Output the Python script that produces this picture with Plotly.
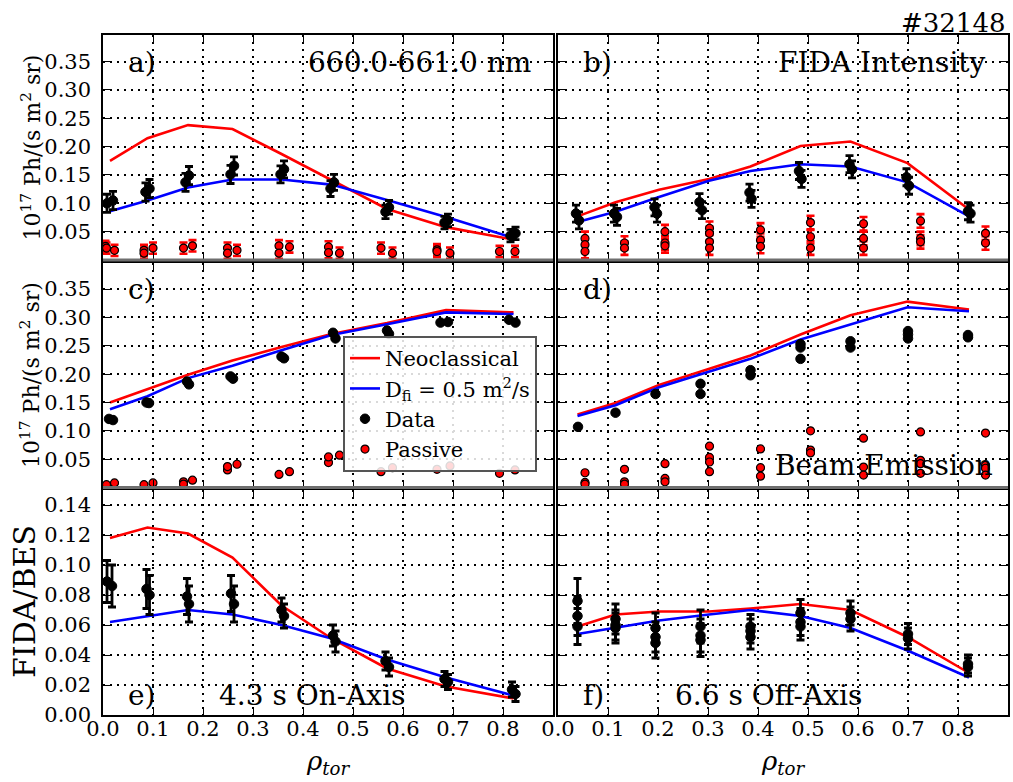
import plotly.graph_objects as go

FONT = "DejaVu Serif"

# ---------------- tick labels ----------------
x_ticks = [0.0, 0.1, 0.2, 0.3, 0.4, 0.5, 0.6, 0.7, 0.8]
x_tick_text = ["0.0", "0.1", "0.2", "0.3", "0.4", "0.5", "0.6", "0.7", "0.8"]
y_ticks_int = [0.05, 0.10, 0.15, 0.20, 0.25, 0.30, 0.35]
y_tick_text_int = ["0.05", "0.10", "0.15", "0.20", "0.25", "0.30", "0.35"]
y_ticks_ratio = [0.00, 0.02, 0.04, 0.06, 0.08, 0.10, 0.12, 0.14]
y_tick_text_ratio = ["0.00", "0.02", "0.04", "0.06", "0.08", "0.10", "0.12", "0.14"]

# ---------------- model radial positions ----------------
rho_mod_on = [0.014, 0.089, 0.170, 0.259, 0.357, 0.457, 0.568, 0.686, 0.821]
rho_mod_off = [0.039, 0.115, 0.202, 0.302, 0.385, 0.485, 0.585, 0.699, 0.822]

# ---------------- panel a: FIDA intensity, on-axis ----------------
a_neo = [0.175, 0.215, 0.238, 0.231, 0.187, 0.141, 0.090, 0.058, 0.036]
a_dfi = [0.086, 0.105, 0.128, 0.142, 0.142, 0.133, 0.106, 0.076, 0.039]
a_rho = [0.008, 0.020, 0.085, 0.093, 0.165, 0.172, 0.255, 0.262, 0.355, 0.362,
         0.455, 0.462, 0.565, 0.572, 0.683, 0.690, 0.815, 0.825]
a_val = [0.100, 0.105, 0.120, 0.126, 0.137, 0.149, 0.151, 0.166, 0.151, 0.160,
         0.126, 0.137, 0.085, 0.093, 0.066, 0.070, 0.043, 0.047]
a_err = [0.016, 0.016, 0.016, 0.016, 0.016, 0.016, 0.016, 0.016, 0.015, 0.015,
         0.014, 0.014, 0.012, 0.012, 0.011, 0.011, 0.011, 0.011]
a_prho = [0.005, 0.007, 0.023, 0.082, 0.082, 0.100, 0.161, 0.179, 0.249, 0.249,
          0.268, 0.352, 0.352, 0.373, 0.451, 0.451, 0.473, 0.556, 0.579, 0.668,
          0.668, 0.694, 0.793, 0.824]
a_pval = [0.024, 0.021, 0.017, 0.017, 0.012, 0.021, 0.021, 0.025, 0.021, 0.012,
          0.017, 0.025, 0.012, 0.023, 0.023, 0.013, 0.012, 0.021, 0.012, 0.018,
          0.015, 0.012, 0.015, 0.015]
a_perr = [0.010] * 24

# ---------------- panel b: FIDA intensity, off-axis ----------------
b_neo = [0.077, 0.102, 0.124, 0.143, 0.165, 0.201, 0.209, 0.171, 0.089]
b_dfi = [0.067, 0.085, 0.111, 0.140, 0.157, 0.169, 0.165, 0.137, 0.077]
b_rho = [0.036, 0.042, 0.112, 0.118, 0.193, 0.198, 0.283, 0.288, 0.383, 0.387,
         0.482, 0.487, 0.583, 0.588, 0.697, 0.702, 0.820, 0.825]
b_val = [0.082, 0.070, 0.082, 0.076, 0.093, 0.082, 0.102, 0.088, 0.119, 0.108,
         0.157, 0.143, 0.169, 0.160, 0.146, 0.131, 0.086, 0.082]
b_err = [0.015] * 18
b_prho = [0.054, 0.054, 0.054, 0.133, 0.133, 0.214, 0.214, 0.214, 0.303, 0.303,
          0.303, 0.303, 0.405, 0.405, 0.405, 0.505, 0.505, 0.505, 0.611, 0.611,
          0.611, 0.725, 0.725, 0.725, 0.855, 0.855]
b_pval = [0.038, 0.027, 0.015, 0.030, 0.021, 0.050, 0.030, 0.025, 0.056, 0.047,
          0.032, 0.021, 0.053, 0.035, 0.024, 0.066, 0.041, 0.021, 0.064, 0.038,
          0.021, 0.069, 0.038, 0.032, 0.047, 0.030]
b_perr = [0.012] * 26

# ---------------- panel c: beam emission, on-axis ----------------
c_neo = [0.150, 0.173, 0.199, 0.224, 0.248, 0.271, 0.290, 0.313, 0.309]
c_dfi = [0.138, 0.161, 0.193, 0.215, 0.242, 0.269, 0.288, 0.309, 0.306]
c_rho = [0.012, 0.020, 0.087, 0.092, 0.168, 0.172, 0.255, 0.260, 0.357, 0.362,
         0.460, 0.465, 0.568, 0.572, 0.675, 0.690, 0.812, 0.825]
c_val = [0.121, 0.119, 0.150, 0.149, 0.187, 0.182, 0.196, 0.192, 0.231, 0.228,
         0.273, 0.263, 0.277, 0.271, 0.291, 0.292, 0.296, 0.291]
c_err = [0.002] * 18
c_prho = [0.007, 0.023, 0.082, 0.100, 0.161, 0.161, 0.179, 0.249, 0.249, 0.268,
          0.352, 0.373, 0.451, 0.451, 0.473, 0.556, 0.579, 0.668, 0.694, 0.793,
          0.824]
c_pval = [0.005, 0.008, 0.005, 0.008, 0.010, 0.006, 0.013, 0.031, 0.037, 0.041,
          0.023, 0.028, 0.044, 0.054, 0.057, 0.028, 0.035, 0.032, 0.038, 0.025,
          0.031]
c_perr = [0.001] * 21

# ---------------- panel d: beam emission, off-axis ----------------
d_neo = [0.129, 0.149, 0.181, 0.210, 0.233, 0.270, 0.304, 0.328, 0.314]
d_dfi = [0.126, 0.145, 0.177, 0.205, 0.227, 0.261, 0.288, 0.318, 0.311]
d_rho = [0.040, 0.115, 0.195, 0.285, 0.285, 0.385, 0.385, 0.485, 0.485, 0.485,
         0.585, 0.585, 0.700, 0.700, 0.700, 0.820, 0.820]
d_val = [0.107, 0.132, 0.165, 0.183, 0.165, 0.207, 0.198, 0.253, 0.247, 0.227,
         0.258, 0.247, 0.276, 0.270, 0.263, 0.269, 0.265]
d_err = [0.002] * 17
d_prho = [0.054, 0.054, 0.054, 0.133, 0.133, 0.133, 0.214, 0.214, 0.214, 0.303,
          0.303, 0.303, 0.303, 0.405, 0.405, 0.405, 0.505, 0.505, 0.505, 0.611,
          0.611, 0.611, 0.725, 0.725, 0.725, 0.725, 0.855, 0.855, 0.855, 0.855]
d_pval = [0.026, 0.009, 0.006, 0.032, 0.010, 0.006, 0.042, 0.016, 0.010, 0.073,
          0.053, 0.045, 0.028, 0.068, 0.035, 0.020, 0.100, 0.066, 0.061, 0.087,
          0.036, 0.022, 0.098, 0.048, 0.042, 0.025, 0.096, 0.039, 0.034, 0.022]
d_perr = [0.001] * 30

# ---------------- panel e: FIDA/BES, 4.3 s on-axis ----------------
e_neo = [0.118, 0.125, 0.121, 0.105, 0.073, 0.051, 0.031, 0.019, 0.011]
e_dfi = [0.062, 0.066, 0.070, 0.067, 0.060, 0.051, 0.037, 0.025, 0.013]
e_rho = [0.008, 0.018, 0.087, 0.093, 0.168, 0.172, 0.256, 0.262, 0.357, 0.362,
         0.460, 0.465, 0.565, 0.572, 0.683, 0.690, 0.818, 0.825]
e_val = [0.089, 0.086, 0.084, 0.080, 0.079, 0.074, 0.081, 0.074, 0.070, 0.066,
         0.053, 0.049, 0.036, 0.032, 0.024, 0.022, 0.017, 0.014]
e_err = [0.014, 0.014, 0.013, 0.013, 0.012, 0.012, 0.012, 0.012, 0.008, 0.008,
         0.007, 0.007, 0.006, 0.006, 0.005, 0.005, 0.005, 0.005]

# ---------------- panel f: FIDA/BES, 6.6 s off-axis ----------------
f_neo = [0.059, 0.067, 0.069, 0.069, 0.071, 0.074, 0.070, 0.052, 0.028]
f_dfi = [0.054, 0.058, 0.063, 0.067, 0.070, 0.066, 0.058, 0.043, 0.025]
f_rho = [0.039, 0.039, 0.039, 0.115, 0.115, 0.115, 0.195, 0.195, 0.195, 0.285,
         0.285, 0.285, 0.385, 0.385, 0.385, 0.485, 0.485, 0.485, 0.585, 0.585,
         0.700, 0.700, 0.820, 0.820]
f_val = [0.076, 0.066, 0.059, 0.064, 0.060, 0.058, 0.058, 0.052, 0.048, 0.059,
         0.053, 0.050, 0.059, 0.056, 0.052, 0.068, 0.062, 0.059, 0.068, 0.064,
         0.054, 0.051, 0.034, 0.032]
f_err = [0.015, 0.013, 0.012, 0.010, 0.010, 0.010, 0.010, 0.010, 0.010, 0.011,
         0.011, 0.011, 0.008, 0.008, 0.008, 0.009, 0.009, 0.009, 0.008, 0.008,
         0.007, 0.007, 0.006, 0.006]

panels = [
    dict(rm=rho_mod_on, neo=a_neo, dfi=a_dfi, rho=a_rho, val=a_val, err=a_err,
         prho=a_prho, pval=a_pval, perr=a_perr),
    dict(rm=rho_mod_off, neo=b_neo, dfi=b_dfi, rho=b_rho, val=b_val, err=b_err,
         prho=b_prho, pval=b_pval, perr=b_perr),
    dict(rm=rho_mod_on, neo=c_neo, dfi=c_dfi, rho=c_rho, val=c_val, err=c_err,
         prho=c_prho, pval=c_pval, perr=c_perr),
    dict(rm=rho_mod_off, neo=d_neo, dfi=d_dfi, rho=d_rho, val=d_val, err=d_err,
         prho=d_prho, pval=d_pval, perr=d_perr),
    dict(rm=rho_mod_on, neo=e_neo, dfi=e_dfi, rho=e_rho, val=e_val, err=e_err),
    dict(rm=rho_mod_off, neo=f_neo, dfi=f_dfi, rho=f_rho, val=f_val, err=f_err),
]

W, H = 1013, 782
# pixel boxes of the panels (left, right, top, bottom)
col_px = [(103, 553), (558, 1008)]
row_px = [(35, 260), (262.5, 487.5), (490, 715)]

fig = go.Figure()

for i, p in enumerate(panels):
    ax = "" if i == 0 else str(i + 1)
    xr, yr = "x" + ax, "y" + ax
    leg = (i == 2)
    fig.add_trace(go.Scatter(x=p["rm"], y=p["neo"], mode="lines", name="Neoclassical",
                             line=dict(color="#ff0000", width=2.6), xaxis=xr, yaxis=yr,
                             showlegend=leg, legendgroup="neo"))
    fig.add_trace(go.Scatter(x=p["rm"], y=p["dfi"], mode="lines",
                             name="D<sub>fi</sub> = 0.5 m<sup>2</sup>/s",
                             line=dict(color="#0000ff", width=2.6), xaxis=xr, yaxis=yr,
                             showlegend=leg, legendgroup="dfi"))
    fig.add_trace(go.Scatter(x=p["rho"], y=p["val"], mode="markers", name="Data",
                             marker=dict(color="black", size=9.5, line=dict(color="black", width=1)),
                             error_y=dict(type="data", array=p["err"], color="black",
                                          thickness=2.8, width=4),
                             xaxis=xr, yaxis=yr, showlegend=leg, legendgroup="data"))
    if "prho" in p:
        fig.add_trace(go.Scatter(x=p["prho"], y=p["pval"], mode="markers", name="Passive",
                                 marker=dict(color="#ff0000", size=8,
                                             line=dict(color="black", width=1.2)),
                                 error_y=dict(type="data", array=p["perr"], color="#ff0000",
                                              thickness=2.6, width=4),
                                 xaxis=xr, yaxis=yr, showlegend=leg, legendgroup="pass"))

axis_common = dict(showline=True, linecolor="black", linewidth=1.5, mirror="allticks",
                   ticks="inside", ticklen=8, tickwidth=1.4, tickcolor="black",
                   showgrid=True, gridcolor="black", griddash="2px,5px", gridwidth=1.5,
                   zeroline=False, automargin=False,
                   tickfont=dict(family=FONT, size=21, color="black"))

layout = {}
shapes = []
for i in range(6):
    r, c = divmod(i, 2)
    ax = "" if i == 0 else str(i + 1)
    x0p, x1p = col_px[c]
    y0p, y1p = row_px[r]
    xd = [x0p / W, x1p / W]
    yd = [1 - y1p / H, 1 - y0p / H]
    bottom = (r == 2)
    layout["xaxis" + ax] = dict(axis_common, domain=xd, range=[0, 0.9],
                                anchor="y" + ax, tickvals=x_ticks, ticktext=x_tick_text,
                                showticklabels=bottom, ticklabelstandoff=-6)
    if bottom:
        yt, ytt, yrng = y_ticks_ratio, y_tick_text_ratio, [0, 0.15]
    else:
        yt, ytt, yrng = y_ticks_int, y_tick_text_int, [0, 0.397]
    layout["yaxis" + ax] = dict(axis_common, domain=yd, range=yrng, anchor="x" + ax,
                                tickvals=yt, ticktext=ytt, showticklabels=(c == 0),
                                ticklabelstandoff=6)
    if not bottom:
        shapes.append(dict(type="line", xref="x" + ax + " domain", yref="y" + ax + " domain",
                           x0=0, x1=1, y0=0, y1=0, line=dict(color="#6e6e6e", width=3)))

ann_font = dict(family=FONT, size=28, color="black")
annotations = []


def add_text(i, x, y, text, xanchor="left", size=28):
    ax = "" if i == 0 else str(i + 1)
    annotations.append(dict(xref="x" + ax + " domain", yref="y" + ax + " domain",
                            x=x, y=y, text=text, showarrow=False, xanchor=xanchor,
                            yanchor="middle", font=dict(ann_font, size=size)))


add_text(0, 0.05, 0.88, "a)")
add_text(0, 0.955, 0.88, "660.0-661.0 nm", xanchor="right")
add_text(1, 0.05, 0.88, "b)")
add_text(1, 0.955, 0.88, "FIDA Intensity", xanchor="right")
add_text(2, 0.05, 0.88, "c)")
add_text(3, 0.05, 0.88, "d)")
add_text(3, 0.97, 0.10, "Beam Emission", xanchor="right")
add_text(4, 0.05, 0.085, "e)")
add_text(4, 0.465, 0.085, "4.3 s On-Axis", xanchor="center")
add_text(5, 0.05, 0.085, "f)")
add_text(5, 0.467, 0.085, "6.6 s Off-Axis", xanchor="center")

ylab = "10<sup>17</sup> Ph/(s m<sup>2</sup> sr)"
for (yc, txt, fs, xc) in [(147.5, ylab, 22, 30), (375, ylab, 22, 30),
                          (602, "FIDA/BES", 30, 24)]:
    annotations.append(dict(xref="paper", yref="paper", x=xc / W, y=1 - yc / H,
                            text=txt, textangle=-90, showarrow=False,
                            xanchor="center", yanchor="middle",
                            font=dict(family=FONT, size=fs, color="black")))

for xc in [328, 783]:
    annotations.append(dict(xref="paper", yref="paper", x=xc / W, y=1 - 781 / H,
                            text="<i>ρ<sub>tor</sub></i>", showarrow=False,
                            xanchor="center", yanchor="bottom",
                            font=dict(family=FONT, size=26, color="black")))

annotations.append(dict(xref="paper", yref="paper", x=1008 / W, y=1 - 23 / H,
                        text="#32148", showarrow=False, xanchor="right", yanchor="middle",
                        font=dict(family=FONT, size=26, color="black")))

fig.update_layout(
    **layout,
    width=W, height=H,
    margin=dict(l=0, r=0, t=0, b=0, pad=0, autoexpand=False),
    paper_bgcolor="white", plot_bgcolor="white",
    shapes=shapes, annotations=annotations,
    showlegend=True,
    legend=dict(x=343 / W, y=1 - 336 / H, xanchor="left", yanchor="top",
                bgcolor="rgba(255,255,255,0.85)", bordercolor="#555555", borderwidth=2,
                font=dict(family=FONT, size=21, color="black"),
                tracegroupgap=0, itemwidth=30),
    font=dict(family=FONT, color="black"),
)

fig.write_html("out.html", config={"displayModeBar": False},
               post_script="document.body.style.margin='0';document.body.style.padding='0';")
